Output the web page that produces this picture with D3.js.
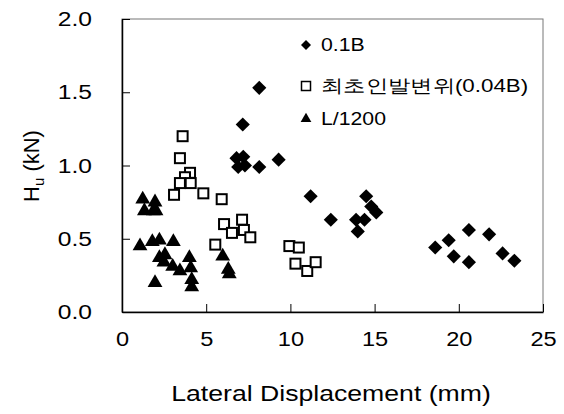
<!DOCTYPE html>
<html>
<head>
<meta charset="utf-8">
<script src="https://cdn.jsdelivr.net/npm/d3@7"></script>
<style>
  html, body { margin: 0; padding: 0; background: #fff; }
  svg { display: block; }
  text { font-family: "Liberation Sans", Arial, sans-serif; fill: #000; }
</style>
</head>
<body>
<script>
// ---- data ----
const xTicks = [0, 5, 10, 15, 20, 25];
const yTicks = [0.0, 0.5, 1.0, 1.5, 2.0];
const seriesNames = ["0.1B", "최초인발변위(0.04B)", "L/1200"];

// 0.1B (diamonds)
const diamondX = [8.15, 7.17, 6.8, 7.2, 6.9, 7.3, 8.15, 9.3, 11.2, 12.4, 14.5, 14.8, 15.1, 13.9, 14.4, 14.0, 18.6, 19.4, 19.7, 20.6, 20.6, 21.8, 22.6, 23.3];
const diamondY = [1.53, 1.28, 1.05, 1.06, 0.99, 1.0, 0.99, 1.04, 0.79, 0.63, 0.79, 0.72, 0.68, 0.63, 0.63, 0.55, 0.44, 0.49, 0.38, 0.56, 0.34, 0.53, 0.40, 0.35];

// 최초인발변위 (0.04B) (open squares)
const squareX = [3.6, 3.44, 4.04, 3.74, 3.44, 4.08, 3.09, 4.83, 5.92, 6.06, 6.53, 7.13, 7.24, 7.62, 5.54, 9.94, 10.5, 10.3, 11.0, 11.5];
const squareY = [1.20, 1.05, 0.95, 0.92, 0.88, 0.88, 0.80, 0.81, 0.77, 0.60, 0.54, 0.63, 0.56, 0.51, 0.46, 0.45, 0.44, 0.33, 0.28, 0.34];

// L/1200 (triangles)
const triX = [1.23, 1.96, 1.33, 1.86, 2.02, 1.07, 1.8, 2.22, 3.05, 2.22, 2.55, 2.49, 3.01, 3.44, 4.0, 4.08, 4.14, 4.14, 1.96, 5.98, 6.31, 6.37];
const triY = [0.77, 0.75, 0.69, 0.69, 0.69, 0.45, 0.48, 0.49, 0.48, 0.37, 0.39, 0.34, 0.31, 0.28, 0.37, 0.30, 0.22, 0.17, 0.20, 0.38, 0.29, 0.26];

// ---- layout ----
const W = 564, H = 414;
const L = 122, R = 543, T = 19, B = 312;

const svg = d3.select("body").append("svg").attr("width", W).attr("height", H);

// widen text horizontally (reference text is stretched)
function stretch(sel, k) {
  sel.each(function () {
    const w = this.getComputedTextLength();
    d3.select(this).attr("textLength", w * k).attr("lengthAdjust", "spacingAndGlyphs");
  });
}

const x = d3.scaleLinear().domain([0, 25]).range([L, R]);
const y = d3.scaleLinear().domain([0, 2]).range([B, T]);

// plot box (top/right)
svg.append("rect").attr("x", L).attr("y", T).attr("width", R - L).attr("height", B - T)
  .attr("fill", "none").attr("stroke", "#777").attr("stroke-width", 1);

// axes
const xAxis = d3.axisBottom(x).tickValues(xTicks).tickSizeInner(-8).tickSizeOuter(0).tickPadding(19).tickFormat(d3.format("d"));
const gx = svg.append("g").attr("transform", `translate(0,${B})`).call(xAxis);
const yAxis = d3.axisLeft(y).tickValues(yTicks).tickSizeInner(-8).tickSizeOuter(0).tickPadding(38).tickFormat(d3.format(".1f"));
const gy = svg.append("g").attr("transform", `translate(${L},0)`).call(yAxis);

[gx, gy].forEach(g => {
  g.select(".domain").attr("stroke", "#000").attr("stroke-width", 1.5);
  g.selectAll(".tick line").attr("stroke", "#000").attr("stroke-width", 1);
  g.selectAll(".tick text").attr("font-family", "Liberation Sans, Arial, sans-serif").attr("font-size", 20.5).attr("fill", "#000");
});
gy.selectAll(".tick text").attr("x", -30).attr("text-anchor", "end");
stretch(gx.selectAll(".tick text"), 1.15);
stretch(gy.selectAll(".tick text"), 1.2);

// axis titles
const xt = svg.append("text").attr("x", 331).attr("y", 401).attr("text-anchor", "middle")
  .attr("font-size", 22).text("Lateral Displacement (mm)");
stretch(xt, 1.21);

const yt = svg.append("text").attr("transform", "translate(39,166) rotate(-90)")
  .attr("text-anchor", "middle").attr("font-size", 22);
yt.append("tspan").text("H");
yt.append("tspan").attr("font-size", 15).attr("dy", 5).text("u");
yt.append("tspan").attr("dy", -5).text(" (kN)");

// markers
const diamond = d3.symbol().type(d3.symbolSquare).size(100);
const tri = d3.symbol().type(d3.symbolTriangle).size(95);

const plot = svg.append("g");
plot.selectAll(".sq").data(d3.range(squareX.length)).join("rect")
  .attr("x", i => x(squareX[i]) - 5).attr("y", i => y(squareY[i]) - 5)
  .attr("width", 10).attr("height", 10)
  .attr("fill", "#fff").attr("stroke", "#000").attr("stroke-width", 2);
plot.selectAll(".tr").data(d3.range(triX.length)).join("path")
  .attr("d", tri).attr("transform", i => `translate(${x(triX[i])},${y(triY[i])})`)
  .attr("fill", "#000");
plot.selectAll(".dm").data(d3.range(diamondX.length)).join("path")
  .attr("d", diamond).attr("transform", i => `translate(${x(diamondX[i])},${y(diamondY[i])}) rotate(45)`)
  .attr("fill", "#000");

// legend
const lg = svg.append("g");
const legY = [45, 86, 119];
lg.append("path").attr("d", d3.symbol().type(d3.symbolSquare).size(50))
  .attr("transform", `translate(306,${legY[0]}) rotate(45)`).attr("fill", "#000");
lg.append("rect").attr("x", 301.5).attr("y", legY[1] - 4.5).attr("width", 9).attr("height", 9)
  .attr("fill", "#fff").attr("stroke", "#000").attr("stroke-width", 1.5);
lg.append("path").attr("d", d3.symbol().type(d3.symbolTriangle).size(50))
  .attr("transform", `translate(306,${legY[2]})`).attr("fill", "#000");
seriesNames.forEach((s, i) => {
  const t = lg.append("text").attr("x", 321).attr("y", legY[i]).attr("dy", "0.35em")
    .attr("font-size", 18)
    .attr("font-family", i === 1 ? "'Liberation Sans', 'Noto Sans CJK KR', sans-serif" : "'Liberation Sans', Arial, sans-serif")
    .text(s);
  stretch(t, i === 1 ? 1.24 : 1.18);
});
</script>
</body>
</html>
